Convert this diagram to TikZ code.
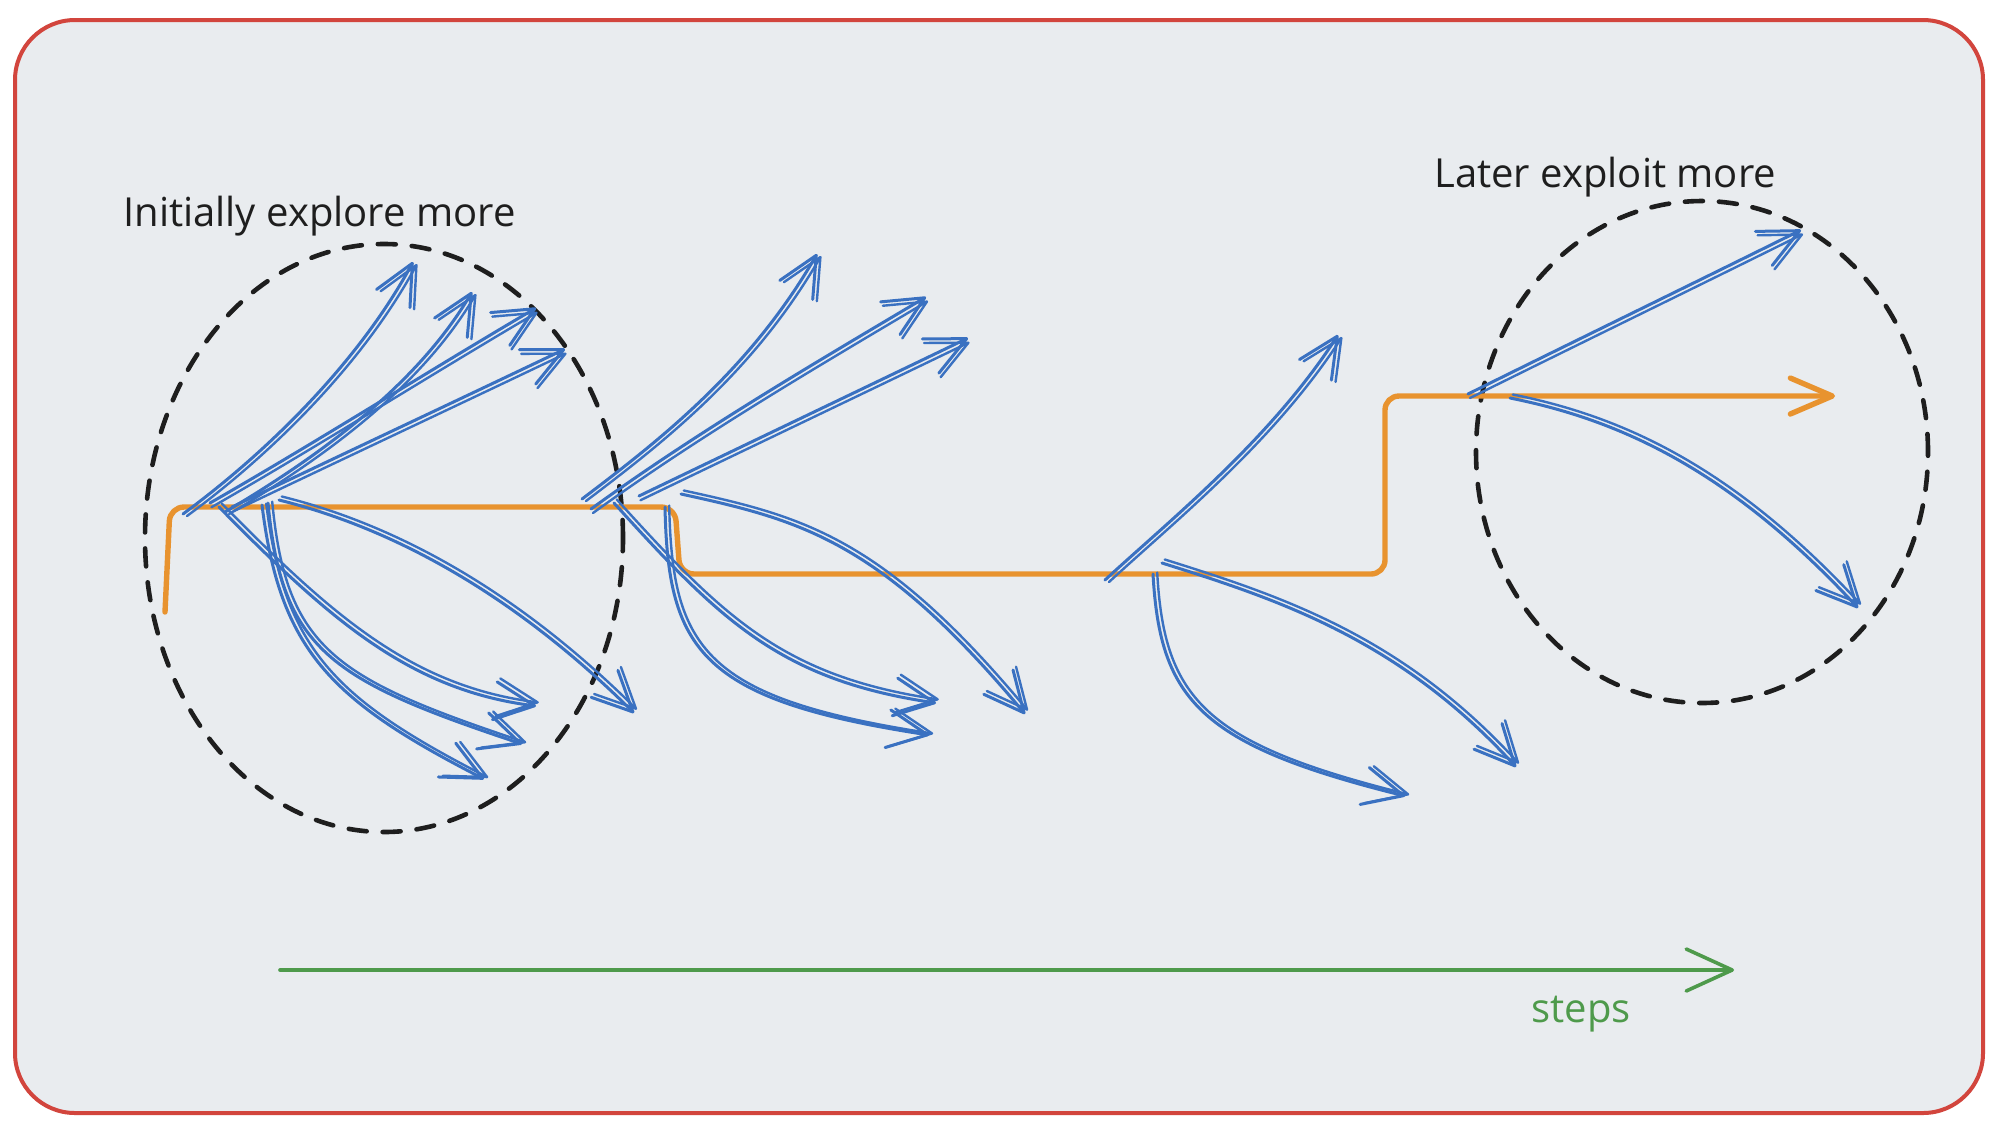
\documentclass[tikz,border=0pt]{standalone}
\usepackage{fontspec}
\setmainfont{Open Sans}
\usetikzlibrary{arrows.meta,shapes.geometric}
\definecolor{bgc}{HTML}{E9ECEF}
\definecolor{framec}{HTML}{D2453D}
\definecolor{bluec}{HTML}{3A71C1}
\definecolor{orangec}{HTML}{E8932F}
\definecolor{greenc}{HTML}{4E9A4B}
\definecolor{inkc}{HTML}{1E1E1E}
\tikzset{
  bluearr/.style={draw=bluec, line width=1.5pt, line cap=round, line join=round,
    -{Straight Barb[length=20pt,width=19pt,round]}},
  bluearrb/.style={bluearr, line width=1.2pt},
  orangearr/.style={draw=orangec, line width=2.7pt, line cap=round, line join=round,
    -{Straight Barb[length=21pt,width=18pt,round]}},
  greenarr/.style={draw=greenc, line width=1.8pt, line cap=round,
    -{Straight Barb[length=23pt,width=21pt,round]}},
  dashring/.style={ellipse, draw=inkc, line width=2.3pt, dash pattern=on 9pt off 8pt,
    line cap=round, inner sep=0pt, minimum width=#1},
  lbl/.style={inner sep=0pt, anchor=base west, text=inkc, font=\fontsize{20}{24}\selectfont},
}
% sketchy doubled arrow: [offset]{start}{control1}{control2}{end}
\newcommand\skarrow[5][2.5,3.2]{%
  \draw[bluearr] (#2) .. controls (#3) and (#4) .. (#5);
  \draw[bluearrb] ([shift={(#1)}]#2) .. controls ([shift={(#1)}]#3) and ([shift={(#1)}]#4) .. ([shift={(#1)}]#5);}
\begin{document}
\begin{tikzpicture}[x=0.5pt,y=-0.5pt]
\useasboundingbox (0,0) rectangle (1996,1126);
\fill[white] (0,0) rectangle (1996,1126);
\draw[framec, line width=2pt, fill=bgc, rounded corners=30pt] (15,20) rectangle (1983,1113);

% labels
\node[lbl] (txplore) at (123,226) {Initially explore more};
\node[lbl] (txploit) at (1434,187) {Later exploit more};
\node[lbl, text=greenc] (tsteps) at (1531,1022) {steps};

% dashed rings
\node[dashring=239pt, minimum height=294pt] (ringL) at (384,538) {};
\node[dashring=226pt, minimum height=251pt] (ringR) at (1702,452) {};

% orange chosen path
\coordinate (o0) at (165,612);
\coordinate (o1) at (1835,396);
\draw[orangearr, rounded corners=7pt] (o0) -- (170,507) -- (675,507) -- (680,574)
   -- (1385,574) -- (1385,396) -- (o1);

% cluster 1
\coordinate (a1s) at (183,514); \coordinate (a1t) at (413,262);
\coordinate (a2s) at (225,512); \coordinate (a2t) at (472,292);
\coordinate (a3s) at (210,503); \coordinate (a3t) at (536,308);
\coordinate (a4s) at (232,507); \coordinate (a4t) at (565,349);
\coordinate (b1s) at (279,500); \coordinate (b1t) at (634,713);
\coordinate (b2s) at (219,507); \coordinate (b2t) at (536,706);
\coordinate (b3s) at (268,503); \coordinate (b3t) at (522,744);
\coordinate (b4s) at (262,505); \coordinate (b4t) at (484,779);
\skarrow[4,2]{a1s}{270,450}{360,360}{a1t}
\skarrow[4,2]{a2s}{330,450}{420,380}{a2t}
\skarrow[1.5,4.2]{a3s}{320,440}{430,370}{a3t}
\skarrow[1.5,4.2]{a4s}{343,454}{454,402}{a4t}
\skarrow[2.8,-3.5]{b1s}{400,530}{520,600}{b1t}
\skarrow[2.8,-3.5]{b2s}{330,620}{410,690}{b2t}
\skarrow[4.2,-1.4]{b3s}{282,650}{330,680}{b3t}
\skarrow[4.2,-1.4]{b4s}{280,650}{330,700}{b4t}

% cluster 2
\coordinate (c1s) at (582,499); \coordinate (c1t) at (817,254);
\coordinate (c2s) at (591,509); \coordinate (c2t) at (926,297);
\coordinate (c3s) at (639,496); \coordinate (c3t) at (968,338);
\coordinate (d1s) at (681,494); \coordinate (d1t) at (1025,714);
\coordinate (d2s) at (614,503); \coordinate (d2t) at (936,703);
\coordinate (d3s) at (665,507); \coordinate (d3t) at (929,735);
\skarrow[4,2]{c1s}{660,440}{750,370}{c1t}
\skarrow[2,4]{c2s}{700,430}{820,360}{c2t}
\skarrow[1.5,4.2]{c3s}{749,443}{858,391}{c3t}
\skarrow[2.8,-3.5]{d1s}{800,520}{880,540}{d1t}
\skarrow[2.8,-3.5]{d2s}{720,620}{780,680}{d2t}
\skarrow[4.2,-1.4]{d3s}{668,650}{700,700}{d3t}

% cluster 3
\coordinate (e1s) at (1105,580); \coordinate (e1t) at (1338,335);
\coordinate (e2s) at (1153,574); \coordinate (e2t) at (1405,796);
\coordinate (e3s) at (1162,563); \coordinate (e3t) at (1516,767);
\skarrow[4,2]{e1s}{1170,520}{1270,440}{e1t}
\skarrow[4.2,-1.4]{e2s}{1160,700}{1200,745}{e2t}
\skarrow[2.8,-3.5]{e3s}{1280,600}{1400,640}{e3t}

% exploit cluster
\coordinate (f1s) at (1468,394); \coordinate (f1t) at (1801,230);
\coordinate (f2s) at (1510,398); \coordinate (f2t) at (1858,608);
\skarrow[2,4]{f1s}{1579,339}{1690,285}{f1t}
\skarrow[2.8,-3.5]{f2s}{1620,420}{1730,470}{f2t}

% steps axis
\coordinate (g0) at (280,970);
\coordinate (g1) at (1734,970);
\draw[greenarr] (g0) -- (g1);
\end{tikzpicture}
\end{document}
